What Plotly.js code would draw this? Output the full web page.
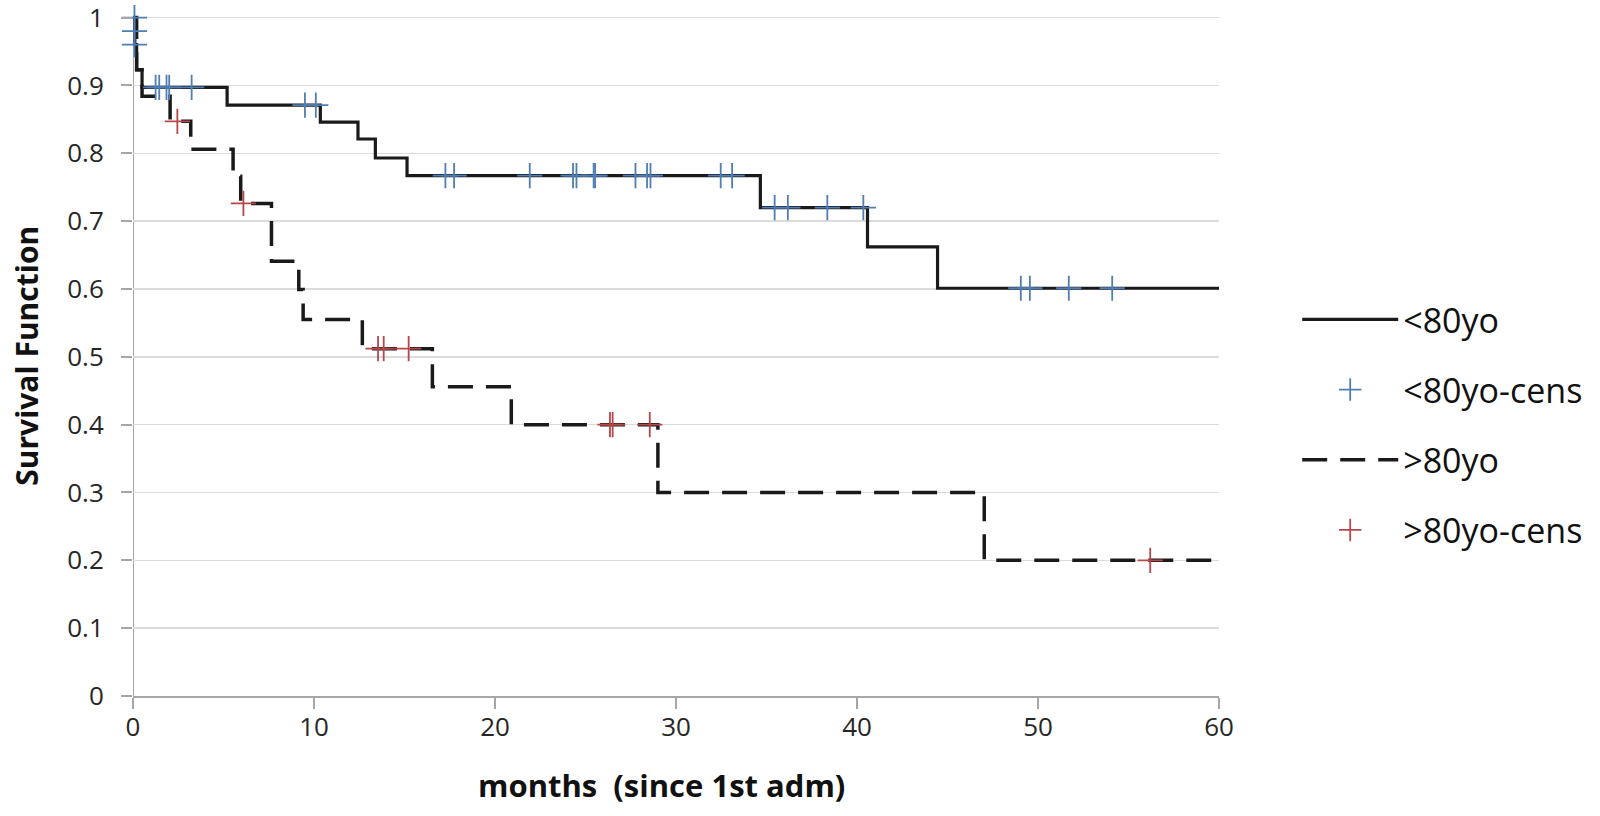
<!DOCTYPE html>
<html>
<head>
<meta charset="utf-8">
<script src="https://cdn.plot.ly/plotly-3.0.1.min.js"></script>
<style>html,body{margin:0;padding:0;background:#fff;}#chart{width:1600px;height:816px;}</style>
</head>
<body>
<div id="chart"></div>
<script>
// Kaplan-Meier step curve, age < 80
const under80Time = [0, 0.05, 0.1, 0.2, 0.5, 5.2, 10.35, 12.43, 13.39, 15.14, 34.66, 40.58, 44.45, 60];
const under80Surv = [1, 0.98, 0.96, 0.923, 0.897, 0.871, 0.846, 0.821, 0.793, 0.767, 0.720, 0.662, 0.601, 0.601];
// censored observations, age < 80
const under80CensTime = [0.08, 0.08, 0.08, 1.25, 1.45, 1.85, 2.0, 3.24, 9.5, 10.1, 17.26, 17.74, 21.92, 24.31, 24.5, 25.45, 25.53, 27.76, 28.4, 28.59, 32.47, 33.1, 35.45, 36.18, 38.36, 40.35, 49.05, 49.55, 51.7, 54.1];
const under80CensSurv = [1, 0.98, 0.96, 0.897, 0.897, 0.897, 0.897, 0.897, 0.871, 0.871, 0.767, 0.767, 0.767, 0.767, 0.767, 0.767, 0.767, 0.767, 0.767, 0.767, 0.767, 0.767, 0.720, 0.720, 0.720, 0.720, 0.601, 0.601, 0.601, 0.601];
// Kaplan-Meier step curve, age > 80
const over80Time = [0, 0.2, 0.5, 2.05, 3.19, 5.53, 5.95, 7.65, 9.16, 9.4, 12.67, 16.54, 20.9, 29.0, 47.03, 60];
const over80Surv = [1, 0.923, 0.884, 0.847, 0.806, 0.766, 0.726, 0.641, 0.599, 0.555, 0.512, 0.456, 0.400, 0.300, 0.200, 0.200];
// censored observations, age > 80
const over80CensTime = [2.45, 6.1, 13.54, 13.85, 15.23, 26.35, 26.5, 28.55, 56.2];
const over80CensSurv = [0.847, 0.726, 0.512, 0.512, 0.512, 0.400, 0.400, 0.400, 0.200];

const seriesNames = ['<80yo', '<80yo-cens', '>80yo', '>80yo-cens'];
const xTicks = [0, 10, 20, 30, 40, 50, 60];
const yTicks = [0, 0.1, 0.2, 0.3, 0.4, 0.5, 0.6, 0.7, 0.8, 0.9, 1];
const xTitle = 'months  (since 1st adm)';
const yTitle = 'Survival Function';

const FONT = 'Open Sans, Liberation Sans, sans-serif';

const traces = [
  {x: under80Time, y: under80Surv, name: seriesNames[0], mode: 'lines', type: 'scatter',
   line: {shape: 'hv', color: '#1a1a1a', width: 3.2}, legendrank: 1, legendgroup: 'a'},
  {x: over80Time, y: over80Surv, name: seriesNames[2], mode: 'lines', type: 'scatter',
   line: {shape: 'hv', color: '#1a1a1a', width: 3.5, dash: '25px,13px'}, legendrank: 3, legendgroup: 'c'},
  {x: under80CensTime, y: under80CensSurv, name: seriesNames[1], mode: 'markers', type: 'scatter',
   cliponaxis: false, legendrank: 2, legendgroup: 'b',
   marker: {symbol: 'cross-thin', size: 18, line: {color: '#4f7db5', width: 1.8}, color: '#4f7db5'}},
  {x: over80CensTime, y: over80CensSurv, name: seriesNames[3], mode: 'markers', type: 'scatter',
   cliponaxis: false, legendrank: 4, legendgroup: 'd',
   marker: {symbol: 'cross-thin', size: 18, line: {color: '#b5484a', width: 1.8}, color: '#b5484a'}}
];

const layout = {
  width: 1600, height: 816,
  margin: {l: 133, r: 381, t: 4, b: 120},
  paper_bgcolor: '#ffffff', plot_bgcolor: '#ffffff',
  font: {family: FONT, color: '#222', size: 26},
  showlegend: true,
  legend: {
    x: 1.072, xanchor: 'left', y: 0.392, yanchor: 'middle',
    font: {family: FONT, size: 34, color: '#111'},
    traceorder: 'grouped', tracegroupgap: 23, itemwidth: 96,
    bgcolor: 'rgba(0,0,0,0)'
  },
  xaxis: {
    range: [0, 60], tickvals: xTicks, ticktext: xTicks.map(String),
    showgrid: false, zeroline: false, showline: true, linecolor: '#a6a6a6', linewidth: 2,
    ticks: 'outside', ticklen: 11, tickcolor: '#a6a6a6', tickwidth: 2,
    ticklabelstandoff: -4,
    tickfont: {family: FONT, size: 26, color: '#262626'}
  },
  yaxis: {
    range: [0, 1.02], tickvals: yTicks, ticktext: yTicks.map(v => String(v)),
    showgrid: true, gridcolor: '#dcdcdc', gridwidth: 1.5, zeroline: false,
    showline: false,
    ticks: 'outside', ticklen: 11, tickcolor: '#a6a6a6', tickwidth: 2,
    ticklabelstandoff: 12, ticklabeloverflow: 'allow',
    tickfont: {family: FONT, size: 26, color: '#262626'}
  },
  annotations: [
    {text: xTitle, xref: 'paper', yref: 'paper', x: 0.487, y: -0.129, xanchor: 'center', yanchor: 'middle',
     showarrow: false, font: {family: FONT, size: 31, color: '#111', weight: 'bold'}},
    {text: yTitle, xref: 'paper', yref: 'paper', x: -0.098, y: 0.491, xanchor: 'center', yanchor: 'middle',
     textangle: -90, showarrow: false, font: {family: FONT, size: 30, color: '#111', weight: 'bold'}}
  ],
  shapes: [
    // y-axis line spanning 0..1 like the reference
    {type: 'line', xref: 'x', yref: 'y', x0: 0, x1: 0, y0: 0, y1: 1,
     line: {color: '#a6a6a6', width: 2}, layer: 'below'}
  ]
};

Plotly.newPlot('chart', traces, layout, {displayModeBar: false, staticPlot: true});
</script>
</body>
</html>
